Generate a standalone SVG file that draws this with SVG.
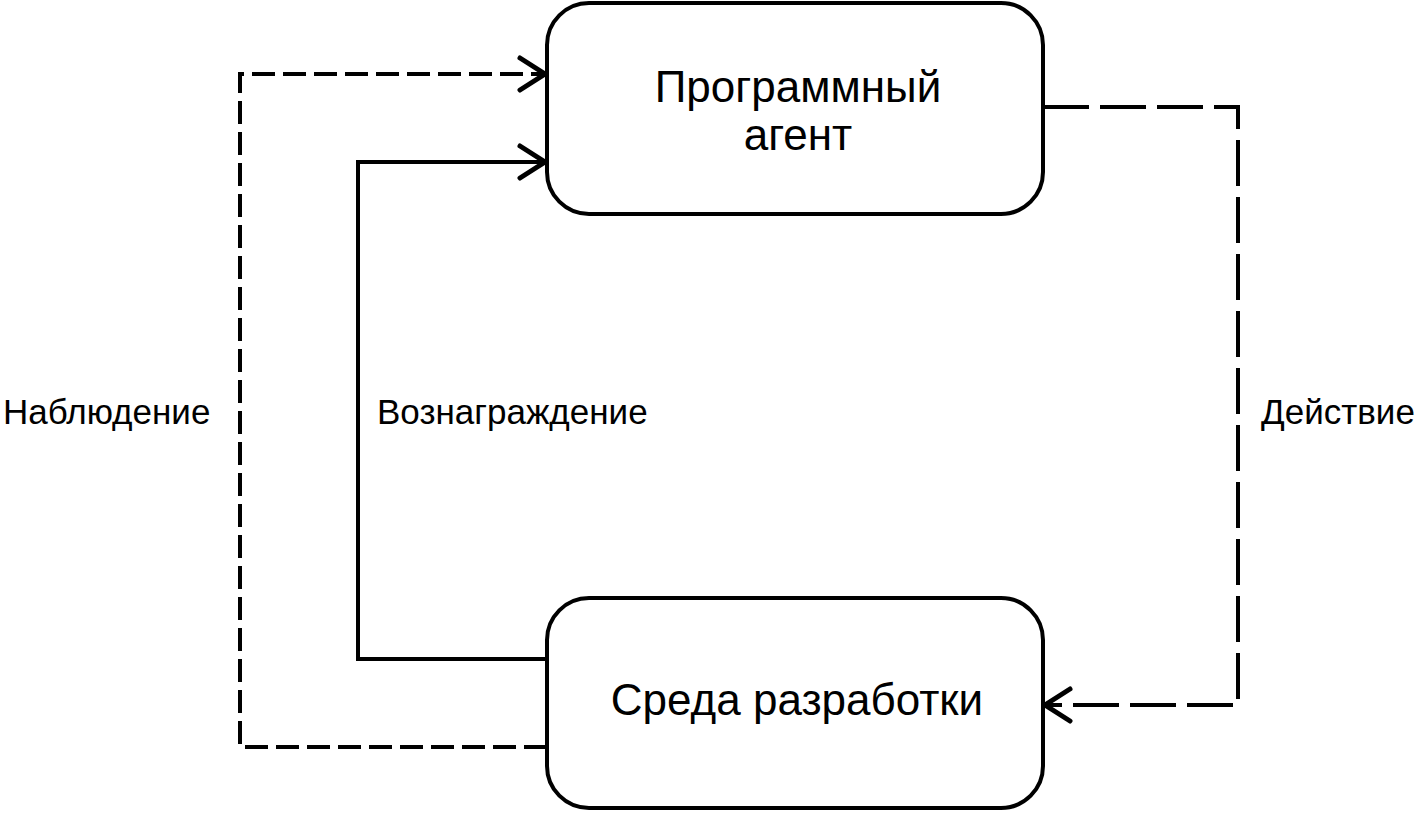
<svg xmlns="http://www.w3.org/2000/svg" width="1423" height="814" viewBox="0 0 1423 814">
<style>
.box{fill:#fff;stroke:#000;stroke-width:4}
.ln{fill:none;stroke:#000;stroke-width:4;stroke-linejoin:miter}
.d1{stroke-dasharray:23 8}
.d2{stroke-dasharray:46 11}
.ah{fill:none;stroke:#000;stroke-width:5;stroke-linecap:round;stroke-linejoin:miter}
text{font-family:"Liberation Sans",Arial,sans-serif;fill:#000}
.nt{font-size:44px;text-anchor:middle}
.lb{font-size:35px}
</style>
<rect width="1423" height="814" fill="#fff"/>
<g id="connectors">
<path class="ln d1" d="M547,747 H240 V74 H543"/>
<path class="ah" d="M520,58 L545,74 L520,90"/>
<path class="ln" d="M547,659 H358 V162 H543"/>
<path class="ah" d="M520,146 L545,162 L520,178"/>
<path class="ln d2" d="M1043,107 H1238 V705 H1047"/>
<path class="ah" d="M1070,689 L1045,705 L1070,721"/>
</g>
<g id="agent">
<rect class="box" x="547" y="3" width="496" height="211" rx="42" ry="42"/>
<text class="nt" x="798" y="102">Программный</text>
<text class="nt" x="798" y="150">агент</text>
</g>
<g id="env">
<rect class="box" x="547" y="598" width="496" height="210" rx="42" ry="42"/>
<text class="nt" x="797" y="715">Среда разработки</text>
</g>
<g id="labels">
<text class="lb" x="3" y="424">Наблюдение</text>
<text class="lb" x="377" y="424">Вознаграждение</text>
<text class="lb" x="1261" y="424">Действие</text>
</g>
</svg>
